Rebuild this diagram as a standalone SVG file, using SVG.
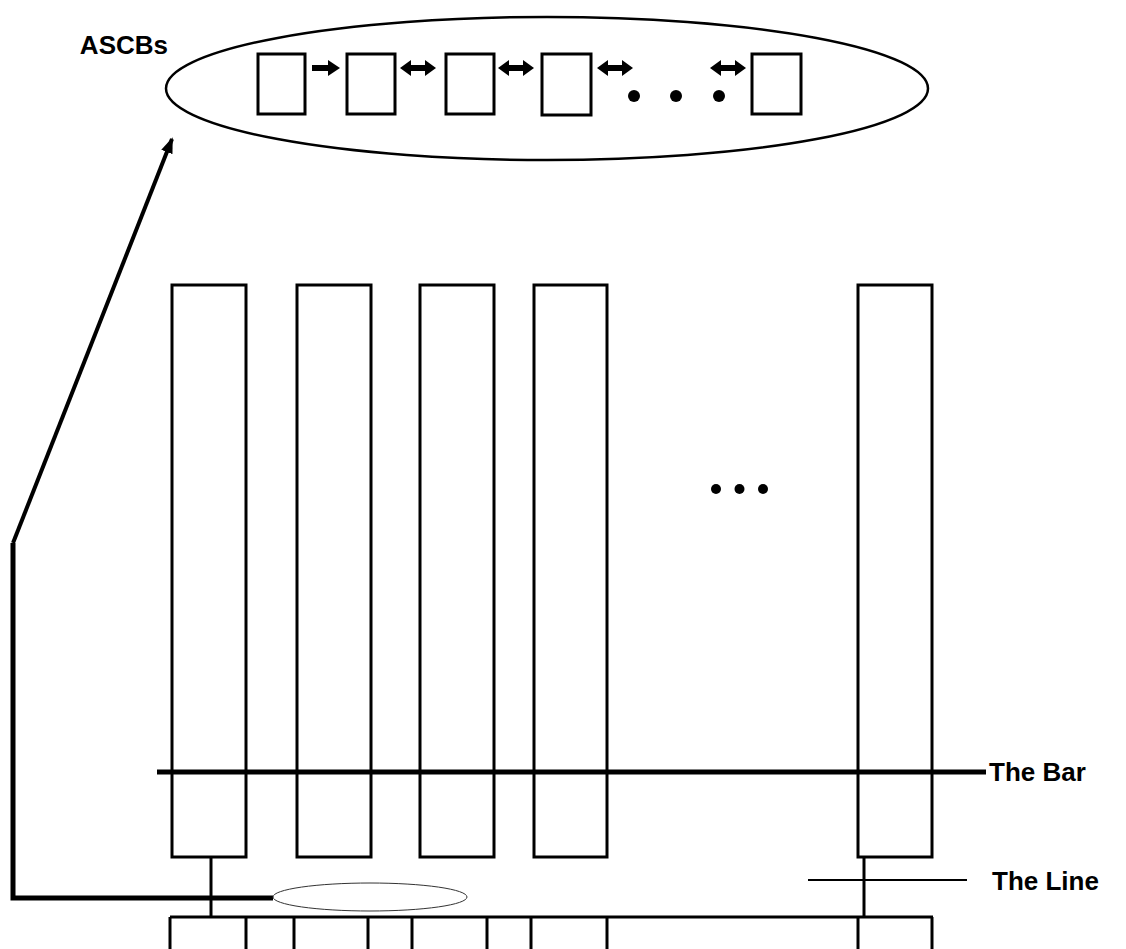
<svg xmlns="http://www.w3.org/2000/svg" width="1126" height="949" viewBox="0 0 1126 949">
<style>
.lbl{font-family:"Liberation Sans",Arial,sans-serif;font-weight:bold;font-size:26px;fill:#000}
.box{fill:#fff;stroke:#000;stroke-width:3}
.sbox{fill:#fff;stroke:#000;stroke-width:3}
.ln{stroke:#000;stroke-width:3;fill:none}
.thick{stroke:#000;stroke-width:5;fill:none}
</style>
<defs>
<path id="dbl" d="M-18,0 L-7,-8 L-7,-3 L7,-3 L7,-8 L18,0 L7,8 L7,3 L-7,3 L-7,8 Z" fill="#000"/>
<path id="sgl" d="M0,-3 L16,-3 L16,-8 L28,0 L16,8 L16,3 L0,3 Z" fill="#000"/>
<marker id="ah" markerWidth="16" markerHeight="12" refX="14" refY="6" orient="auto" markerUnits="userSpaceOnUse" viewBox="0 0 16 12">
<path d="M0,0 L16,6 L0,12 Z" fill="#000"/>
</marker>
</defs>
<rect width="1126" height="949" fill="#fff"/>

<g id="ascbs">
<ellipse cx="547" cy="88.5" rx="381" ry="71.5" fill="#fff" stroke="#000" stroke-width="2.5"/>
<rect class="sbox" x="258" y="54" width="47" height="60"/>
<rect class="sbox" x="347" y="54" width="48" height="60"/>
<rect class="sbox" x="446" y="54" width="48" height="60"/>
<rect class="sbox" x="542" y="54" width="49" height="61"/>
<rect class="sbox" x="752" y="54" width="49" height="60"/>
<use href="#sgl" transform="translate(312,68)"/>
<use href="#dbl" transform="translate(418,68)"/>
<use href="#dbl" transform="translate(516,68)"/>
<use href="#dbl" transform="translate(615,68)"/>
<use href="#dbl" transform="translate(728,68)"/>
<circle cx="634" cy="96" r="6"/>
<circle cx="676" cy="96" r="6"/>
<circle cx="719" cy="96" r="6"/>
<text class="lbl" x="168" y="54" text-anchor="end">ASCBs</text>
</g>

<g id="col1"><rect class="box" x="172" y="285" width="74" height="572"/></g>
<g id="col2"><rect class="box" x="297" y="285" width="74" height="572"/></g>
<g id="col3"><rect class="box" x="420" y="285" width="74" height="572"/></g>
<g id="col4"><rect class="box" x="534" y="285" width="73" height="572"/></g>
<g id="col5"><rect class="box" x="858" y="285" width="74" height="572"/></g>

<g id="dots">
<circle cx="716" cy="489" r="5"/>
<circle cx="739.5" cy="489" r="5"/>
<circle cx="763" cy="489" r="5"/>
</g>

<g id="bottomrow">
<line class="ln" x1="170" y1="917" x2="933" y2="917"/>
<line class="ln" x1="170" y1="917" x2="170" y2="950"/>
<line class="ln" x1="246" y1="917" x2="246" y2="950"/>
<line class="ln" x1="294" y1="917" x2="294" y2="950"/>
<line class="ln" x1="368" y1="917" x2="368" y2="950"/>
<line class="ln" x1="412" y1="917" x2="412" y2="950"/>
<line class="ln" x1="487" y1="917" x2="487" y2="950"/>
<line class="ln" x1="531" y1="917" x2="531" y2="950"/>
<line class="ln" x1="607" y1="917" x2="607" y2="950"/>
<line class="ln" x1="858" y1="917" x2="858" y2="950"/>
<line class="ln" x1="932" y1="917" x2="932" y2="950"/>
</g>

<g id="connectors">
<line class="ln" x1="211" y1="857" x2="211" y2="917"/>
<line class="ln" x1="864" y1="857" x2="864" y2="917"/>
<polyline class="thick" points="273,898 13,898 13,543"/>
<line x1="13" y1="543" x2="172" y2="139" stroke="#000" stroke-width="4" marker-end="url(#ah)"/>
<line class="thick" x1="157" y1="772" x2="986" y2="772"/>
<line x1="808" y1="880" x2="967" y2="880" stroke="#000" stroke-width="2"/>
</g>

<g id="pointer">
<ellipse cx="370" cy="897" rx="97" ry="14" fill="#fff" stroke="#333" stroke-width="1"/>
</g>

<g id="labels">
<text class="lbl" x="989" y="781">The Bar</text>
<text class="lbl" x="992" y="890">The Line</text>
</g>
</svg>
